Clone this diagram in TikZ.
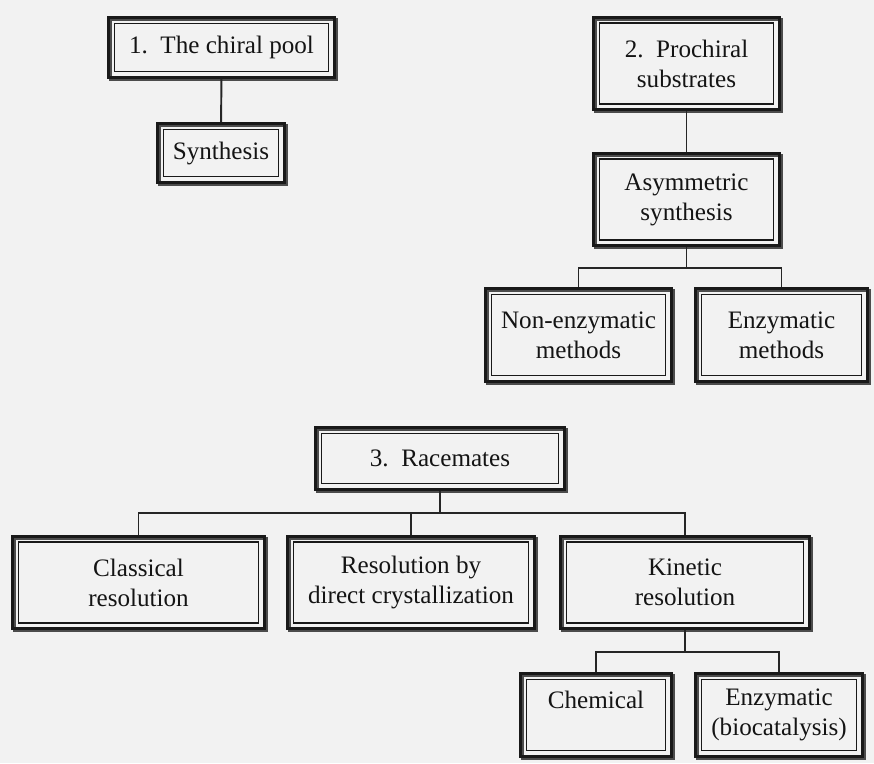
\documentclass[tikz,border=0pt]{standalone}
\usepackage{fontspec}
\setmainfont{Liberation Serif}
\usetikzlibrary{positioning,calc}

\tikzset{
  box/.style={draw=black!90, line width=1pt, align=center, inner sep=0pt,
    text=black!92, font=\fontsize{14.3}{17}\selectfont},
  wide/.style={box, minimum height=1.62cm},
  link/.style={draw=black!85, line width=1.1pt, shorten >=3.7pt},
  stem/.style={draw=black!85, line width=1.1pt, shorten <=3.7pt},
}

\begin{document}
\begin{tikzpicture}[x=0.02cm, y=-0.02cm]
  \fill[black!5] (0,0) rectangle (874,763);
  \useasboundingbox (0,0) rectangle (874,763);

  % the three sources
  \node[box, minimum width=4.28cm, minimum height=0.96cm] (pool) at (221.5,47.5) {1.\ \ The chiral pool};
  \node[box, minimum width=2.30cm, minimum height=0.94cm] (synth) at (221,153) {Synthesis};

  \node[wide, minimum width=3.48cm] (prochiral) at (686.5,63.5) {2.\ \ Prochiral\\substrates};
  \node[wide, minimum width=3.48cm] (asym) at (686.5,199.5) {Asymmetric\\synthesis};
  \node[wide, minimum width=3.48cm] (nonenz) at (578.5,335) {Non-enzymatic\\methods};
  \node[wide, minimum width=3.20cm] (enzmeth) at (781.5,335) {Enzymatic\\methods};

  \node[box, minimum width=4.74cm, minimum height=1.00cm] (racemates) at (440,458.5) {3.\ \ Racemates};
  \node[wide, minimum width=4.80cm] (classical) at (138.5,582.5) {Classical\\resolution};
  \node[wide, minimum width=4.70cm] (crystal) at (411,582.5) {Resolution by\\direct crystallization};
  \node[wide, minimum width=4.74cm] (kinetic) at (685,582.5) {Kinetic\\resolution};
  \node[box, minimum width=2.78cm, minimum height=1.42cm] (chemical) at (596,715) {Chemical\\\mbox{}};
  \node[box, minimum width=3.10cm, minimum height=1.42cm] (biocat) at (779,715) {Enzymatic\\(biocatalysis)};

  % heavy outer frames with a slight shadow
  \foreach \n in {pool,synth,prochiral,asym,nonenz,enzmeth,racemates,classical,crystal,kinetic,chemical,biocat}{
    \draw[black!70, line width=1.8pt]
      ($(\n.north west)+(-1.6pt,1.6pt)$) rectangle ($(\n.south east)+(4pt,-4pt)$);
    \draw[black!90, line width=1.8pt]
      ($(\n.north west)+(-2.8pt,2.8pt)$) rectangle ($(\n.south east)+(2.8pt,-2.8pt)$);
  }

  % bus lines
  \coordinate (bus2) at (0,268);
  \coordinate (bus3) at (0,513);
  \coordinate (bus4) at (0,652);

  \draw[link, shorten <=3.7pt] (pool.south) -- (synth.north);
  \draw[link, shorten <=3.7pt] (prochiral.south) -- (asym.north);

  \draw[stem] (asym.south) -- (asym.south |- bus2);
  \draw[link] (asym.south |- bus2) -| (nonenz.north);
  \draw[link] (asym.south |- bus2) -| (enzmeth.north);

  \draw[stem] (racemates.south) -- (racemates.south |- bus3);
  \draw[link] (racemates.south |- bus3) -| (classical.north);
  \draw[link] (racemates.south |- bus3) -| (crystal.north);
  \draw[link] (racemates.south |- bus3) -| (kinetic.north);

  \draw[stem] (kinetic.south) -- (kinetic.south |- bus4);
  \draw[link] (kinetic.south |- bus4) -| (chemical.north);
  \draw[link] (kinetic.south |- bus4) -| (biocat.north);
\end{tikzpicture}
\end{document}
